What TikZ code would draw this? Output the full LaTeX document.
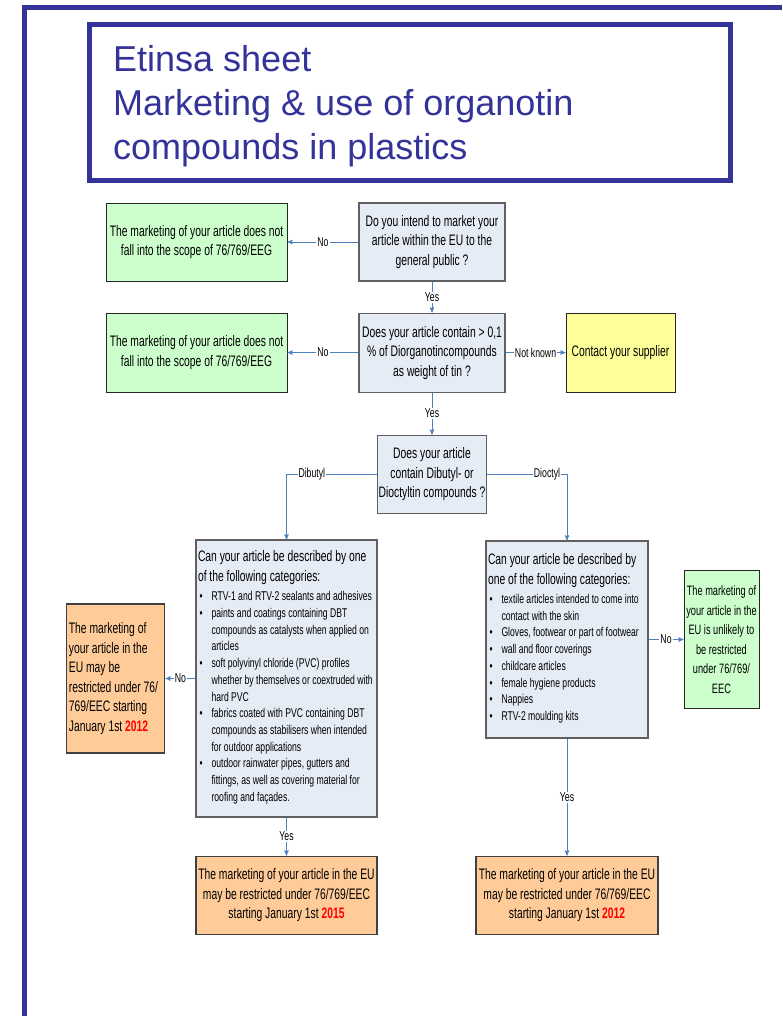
\documentclass[tikz,border=0pt]{standalone}
\usepackage{fontspec}
\setmainfont{Liberation Sans}
\newfontfamily\narrowsf{Liberation Sans}[FakeStretch=0.68]
\usepackage{tikz}
\usetikzlibrary{positioning, arrows}

\hyphenpenalty=10000
\exhyphenpenalty=10000

\definecolor{framecol}{HTML}{333399}
\definecolor{qfill}{HTML}{E6ECF5}
\definecolor{qline}{HTML}{606060}
\definecolor{okfill}{HTML}{CCFFCC}
\definecolor{askfill}{HTML}{FFFF99}
\definecolor{warnfill}{HTML}{FFCC99}
\definecolor{flow}{HTML}{4F81BD}

\newcommand{\boxsize}{\narrowsf\fontsize{15.2}{19.5}\selectfont}
\newcommand{\listsize}{\narrowsf\fontsize{12.7}{16.7}\selectfont}
\newcommand{\yr}[1]{\textcolor{red}{\textbf{#1}}}

\begin{document}
\begin{tikzpicture}[x=1pt,y=-1pt,>=stealth',
    box/.style={draw=qline,line width=1.1pt,inner xsep=1pt,inner ysep=2pt,font=\boxsize,align=center},
    question/.style={box,fill=qfill},
    outside/.style={box,fill=okfill,draw=black!85,line width=0.8pt},
    supplier/.style={box,fill=askfill,draw=black!85,line width=0.8pt},
    restrict/.style={box,fill=warnfill,draw=black!75},
    catlist/.style={question,align=flush left,inner xsep=2pt},
    flowline/.style={color=flow,line width=0.9pt},
    lbl/.style={fill=white,text=black,inner sep=1pt,font=\narrowsf\fontsize{12.8}{15}\selectfont}]
                        \useasboundingbox (0,0) rectangle (782,1016);
                        \draw[framecol,line width=5pt] (24.5,1016) -- (24.5,7.5) -- (782,7.5);
                        \node[draw=framecol,line width=5pt,minimum width=641pt,minimum height=155.5pt] (ttl) at (410,102.75) {};
                        \node[anchor=base west,align=left,inner sep=0pt,text=framecol,font=\fontsize{36}{44}\selectfont] (ttltxt) at (113,160)
                             {Etinsa sheet\\Marketing \& use of organotin\\compounds in plastics};
                        \node[question,minimum width=146pt,minimum height=78pt] (q1)    at (432,242)        {Do you intend to market your\\article within the EU to the\\general public ?};
                        \node[outside,minimum width=181pt,minimum height=78pt]  (out1)  [left=71pt of q1]   {The marketing of your article does not\\fall into the scope of 76/769/EEG};
                        \node[question,minimum width=146pt,minimum height=79pt] (q2)    [below=31pt of q1]  {Does your article contain > 0,1\\\% of Diorganotincompounds\\as weight of tin ?};
                        \node[outside,minimum width=181pt,minimum height=79pt]  (out2)  [left=71pt of q2]   {The marketing of your article does not\\fall into the scope of 76/769/EEG};
                        \node[supplier,minimum width=109pt,minimum height=79pt] (supp)  [right=60pt of q2]  {Contact your supplier};
                        \node[question,minimum width=109pt,minimum height=78pt] (q3)    [below=42pt of q2]  {Does your article\\contain Dibutyl- or\\Dioctyltin compounds ?};
                        \node[catlist,text width=177pt,minimum height=277pt]    (catl)  at (286.5,678.5)
                             {Can your article be described by one\\of the following categories:\\
                              \listsize\begin{tabular}[t]{@{\hspace{1.5pt}}l@{\hspace{9pt}}l@{}}
                              \textbullet & RTV-1 and RTV-2 sealants and adhesives\\
                              \textbullet & paints and coatings containing DBT\\
                                          & compounds as catalysts when applied on\\
                                          & articles\\
                              \textbullet & soft polyvinyl chloride (PVC) profiles\\
                                          & whether by themselves or coextruded with\\
                                          & hard PVC\\
                              \textbullet & fabrics coated with PVC containing DBT\\
                                          & compounds as stabilisers when intended\\
                                          & for outdoor applications\\
                              \textbullet & outdoor rainwater pipes, gutters and\\
                                          & fittings, as well as covering material for\\
                                          & roofing and façades.
                              \end{tabular}};
                        \node[catlist,text width=158pt,minimum height=197pt]    (catr)  at (567,639.5)
                             {Can your article be described by\\one of the following categories:\\
                              \listsize\begin{tabular}[t]{@{\hspace{1.5pt}}l@{\hspace{9pt}}l@{}}
                              \textbullet & textile articles intended to come into\\
                                          & contact with the skin\\
                              \textbullet & Gloves, footwear or part of footwear\\
                              \textbullet & wall and floor coverings\\
                              \textbullet & childcare articles\\
                              \textbullet & female hygiene products\\
                              \textbullet & Nappies\\
                              \textbullet & RTV-2 moulding kits
                              \end{tabular}};
                        \node[restrict,align=flush left,text width=94pt,inner xsep=2pt,minimum height=149pt] (res12a) [left=30pt of catl]
                             {The marketing of\\your article in the\\EU may be\\restricted under 76/\\769/EEC starting\\January 1st \yr{2012}};
                        \node[outside,align=flush center,text width=71pt,inner xsep=2pt,minimum height=138pt,font=\narrowsf\fontsize{13.6}{19.5}\selectfont] (unlikely) [right=35pt of catr]
                             {The marketing of\\your article in the\\EU is unlikely to\\be restricted\\under 76/769/\\EEC};
                        \node[restrict,minimum width=181pt,minimum height=78pt] (res15)  [below=38pt of catl]  {The marketing of your article in the EU\\may be restricted under 76/769/EEC\\starting January 1st \yr{2015}};
                        \node[restrict,minimum width=182pt,minimum height=78pt] (res12b) [below=117pt of catr] {The marketing of your article in the EU\\may be restricted under 76/769/EEC\\starting January 1st \yr{2012}};
                        \path[->,flowline] (q1)   edge node[lbl] {No}        (out1);
                        \path[->,flowline] (q1)   edge node[lbl] {Yes}       (q2);
                        \path[->,flowline] (q2)   edge node[lbl] {No}        (out2);
                        \path[->,flowline] (q2)   edge node[lbl] {Not known} (supp);
                        \path[->,flowline] (q2)   edge node[lbl] {Yes}       (q3);
                        \draw[->,flowline] (q3) -| node[lbl,pos=0.36]  {Dibutyl} (catl);
                        \draw[->,flowline] (q3) -| node[lbl,pos=0.375] {Dioctyl} (catr);
                        \path[->,flowline] (catl) edge node[lbl] {No}        (res12a);
                        \path[->,flowline] (catr) edge node[lbl] {No}        (unlikely);
                        \path[->,flowline] (catl) edge node[lbl] {Yes}       (res15);
                        \path[->,flowline] (catr) edge node[lbl] {Yes}       (res12b);
\end{tikzpicture}
\end{document}
